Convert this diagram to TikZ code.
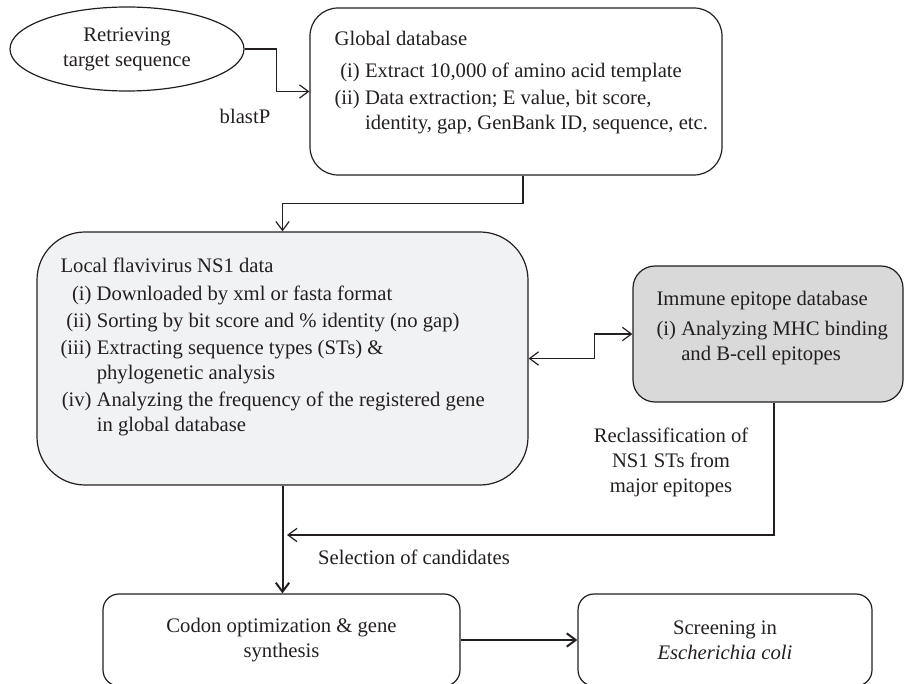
\documentclass[tikz,border=0pt]{standalone}
\usepackage{fontspec}
\setmainfont{Liberation Serif}
\usetikzlibrary{shapes.geometric,arrows.meta}

\definecolor{boxline}{RGB}{35,31,32}
\definecolor{localfill}{RGB}{241,242,244}
\definecolor{immunefill}{RGB}{217,217,217}
\newcommand{\boxfont}{\fontsize{15.5}{18.75}\selectfont}

\tikzset{every picture/.style={line width=0.9pt}}
\tikzset{
  rbox/.style={draw=boxline, rectangle, rounded corners=#1, inner sep=0pt},
  txt/.style={inner sep=0pt, font=\boxfont, align=center, text=boxline},
  barb/.tip={Straight Barb[length=6.75pt,width=10pt]},
  arr/.style={draw=boxline, -barb},
  arrboth/.style={draw=boxline, barb-barb},
}

\begin{document}
\begin{tikzpicture}[x=0.75pt,y=0.75pt,yscale=-1,xscale=1]
	%set diagram: 904 wide, 684 high
	\clip (0,0) rectangle (904,684);

	%Shape: Ellipse [retrieving]
	\node[draw=boxline, ellipse, minimum width=175.5pt, minimum height=63pt, txt] (retr) at (127,49) {Retrieving\\target sequence};
	%Shape: Rounded Rect [global database]
	\node[rbox=21pt, minimum width=309pt, minimum height=125.25pt] (global) at (516,91.5) {};
	%Shape: Rounded Rect [local data]
	\node[rbox=36pt, fill=localfill, minimum width=368.25pt, minimum height=189.75pt] (local) at (282.5,358.5) {};
	%Shape: Rounded Rect [immune epitope]
	\node[rbox=16.5pt, fill=immunefill, minimum width=202.5pt, minimum height=102pt] (immune) at (768,334) {};
	%Shape: Rounded Rect [codon]
	\node[rbox=12pt, minimum width=267.75pt, minimum height=69pt, txt] (codon) at (281.5,640) {Codon optimization \& gene\\synthesis};
	%Shape: Rounded Rect [screening]
	\node[rbox=12pt, minimum width=220.5pt, minimum height=69pt, txt] (screen) at (725,640) {Screening in\\\textit{Escherichia coli}};

	% Text Node
	\node[txt, anchor=north west, align=left] (globaltxt) at (334,27.5) {\begin{tabular}{@{}r@{~}l@{}}
	\multicolumn{2}{@{}l@{}}{Global database}\\[5pt]
	(i) & Extract 10,000 of amino acid template\\[1.5pt]
	(ii) & Data extraction; E value, bit score,\\
	& identity, gap, GenBank ID, sequence, etc.
	\end{tabular}};
	% Text Node
	\node[txt, anchor=north west, align=left] (localtxt) at (60,254.5) {\begin{tabular}{@{}r@{~}l@{}}
	\multicolumn{2}{@{}l@{}}{Local flavivirus NS1 data}\\[2.25pt]
	(i) & Downloaded by xml or fasta format\\[1.5pt]
	(ii) & Sorting by bit score and \% identity (no gap)\\[1.5pt]
	(iii) & Extracting sequence types (STs) \&\\
	& phylogenetic analysis\\[1.5pt]
	(iv) & Analyzing the frequency of the registered gene\\
	& in global database
	\end{tabular}};
	% Text Node
	\node[txt, anchor=north west, align=left] (immunetxt) at (656,287.5) {\begin{tabular}{@{}r@{~}l@{}}
	\multicolumn{2}{@{}l@{}}{Immune epitope database}\\[4pt]
	(i) & Analyzing MHC binding\\
	& and B-cell epitopes
	\end{tabular}};
	% Text Node
	\node[txt] (blast) at (245,116) {blastP};
	% Text Node
	\node[txt] (reclass) at (671,462) {Reclassification of\\NS1 STs from\\major epitopes};
	% Text Node
	\node[txt] (select) at (414,557) {Selection of candidates};

	\coordinate (merge) at (287,535);

	%Straight Lines [connectors]
	\draw[arr] (retr.east) -- ++(32,0) |- (global.west);
	\draw[arr] ([xshift=5.25pt]global.south) -- ++(0,28) -| (local.north);
	\draw[arrboth] (local.east) -- ++(66,0) |- (immune.west);
	\draw[arr] ([xshift=4.5pt]immune.south) |- (merge);
	\draw[arr, line width=1.5pt] (local.south) -- (local.south |- codon.north);
	\draw[arr, line width=1.5pt] (codon.east) -- (screen.west);

\end{tikzpicture}
\end{document}
